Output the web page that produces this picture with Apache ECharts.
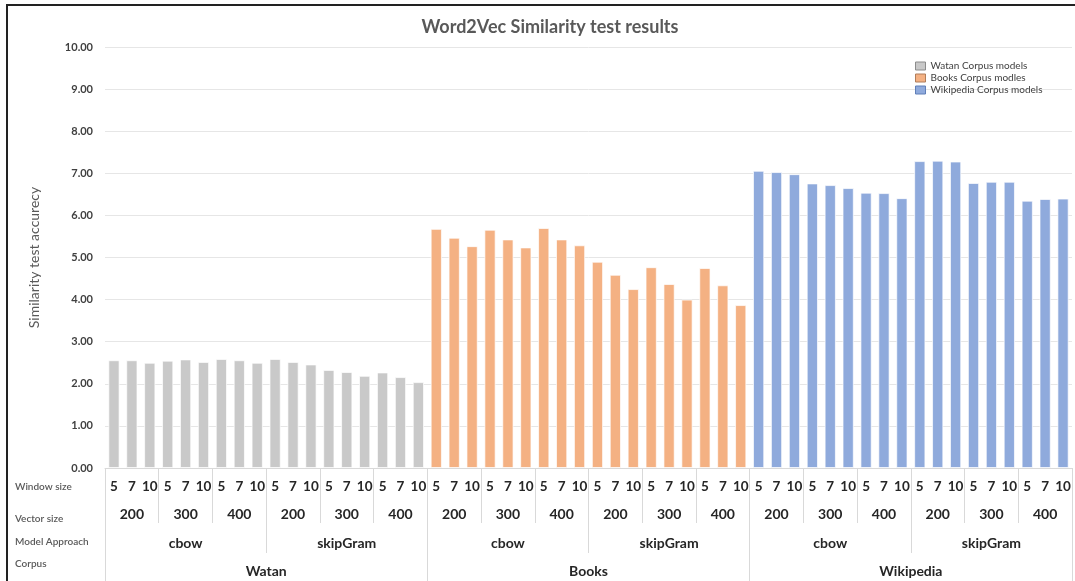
<!DOCTYPE html>
<html>
<head>
<meta charset="utf-8">
<title>Word2Vec Similarity test results</title>
<script src="https://cdn.jsdelivr.net/npm/echarts@6/dist/echarts.min.js"></script>
<style>
  html, body { margin: 0; padding: 0; background: #fff; }
  #wrap { position: relative; width: 1075px; height: 581px; }
  #wrap::before {
    content: ""; position: absolute; left: 6px; top: 4px; right: 0; bottom: 0;
    border-left: 2px solid #222; border-top: 2px solid #222; pointer-events: none; z-index: 2;
  }
  #chart { width: 1075px; height: 581px; }
</style>
</head>
<body>
<div id="wrap"><div id="chart"></div></div>
<script>
// Hierarchical category labels (innermost first)
const windowSizes = ['5', '7', '10'];
const vectorSizes = ['200', '300', '400'];
const approaches = ['cbow', 'skipGram'];
const corpora = ['Watan', 'Books', 'Wikipedia'];
const seriesNames = ['Watan Corpus models', 'Books Corpus modles', 'Wikipedia Corpus models'];

// Similarity test accuracy, ordered approach > vector size > window size
const watanScores = [2.56, 2.56, 2.50, 2.55, 2.58, 2.52, 2.59, 2.56, 2.50,
                     2.59, 2.52, 2.46, 2.33, 2.28, 2.19, 2.27, 2.16, 2.04];
const booksScores = [5.68, 5.47, 5.27, 5.66, 5.43, 5.24, 5.70, 5.43, 5.29,
                     4.90, 4.59, 4.25, 4.77, 4.37, 4.00, 4.75, 4.34, 3.87];
const wikiScores  = [7.06, 7.03, 6.98, 6.76, 6.72, 6.65, 6.54, 6.53, 6.41,
                     7.29, 7.30, 7.28, 6.77, 6.80, 6.80, 6.35, 6.39, 6.40];

const yTicks = { min: 0, max: 10, interval: 1 };
const colors = ['#c9c9c9', '#f4b183', '#8faadc'];
const legendBorders = ['#8c8c8c', '#b07d5a', '#5f7fb8'];

// Build the label rows for each level of the axis
const windowRow = [], vectorRow = [], approachRow = [], corpusRow = [];
corpora.forEach(c => {
  corpusRow.push(c);
  approaches.forEach(a => {
    approachRow.push(a);
    vectorSizes.forEach(v => {
      vectorRow.push(v);
      windowSizes.forEach(w => windowRow.push(w));
    });
  });
});

// Each corpus occupies its own block of the shared category axis
const allScores = [watanScores, booksScores, wikiScores];
const seriesData = allScores.map((scores, ci) => {
  const out = [];
  allScores.forEach((s, cj) => s.forEach((v) => out.push(ci === cj ? v : '-')));
  return out;
});

const FONT = 'Lato, "Open Sans", sans-serif';
const sepColor = '#d9d9d9';

function levelAxis(data, margin, tickLen, size) {
  return {
    type: 'category', data: data, gridIndex: 0, position: 'bottom',
    axisLine: { show: false },
    axisTick: { show: tickLen > 0, interval: 0, length: tickLen, lineStyle: { color: sepColor } },
    axisLabel: { interval: 0, margin: margin, fontFamily: FONT, fontSize: size, fontWeight: 'bold', color: '#262626' },
    splitLine: { show: false }
  };
}

const rowTitles = ['Window size', 'Vector size', 'Model Approach', 'Corpus'];
const rowY = [487, 519, 542, 564];

const chart = echarts.init(document.getElementById('chart'), null, { renderer: 'canvas' });
chart.setOption({
  animation: false,
  backgroundColor: '#fff',
  title: {
    text: 'Word2Vec Similarity test results',
    left: 545, textAlign: 'center', top: 13,
    textStyle: { fontFamily: FONT, fontSize: 18, fontWeight: 'bold', color: '#595959' }
  },
  legend: {
    orient: 'vertical', left: 915, top: 61, padding: 0,
    itemWidth: 10, itemHeight: 8, itemGap: 2,
    icon: 'rect',
    textStyle: { fontFamily: FONT, fontSize: 10, lineHeight: 10, color: '#404040' },
    data: seriesNames.map((n, i) => ({ name: n, itemStyle: { borderColor: legendBorders[i], borderWidth: 1 } }))
  },
  grid: { left: 105, right: 3, top: 47, bottom: 113, containLabel: false, outerBoundsMode: 'none' },
  graphic: rowTitles.map((t, i) => ({
    type: 'text', left: 15, top: rowY[i] - 5,
    style: { text: t, font: '600 10px ' + FONT, fill: '#595959' }
  })),
  xAxis: [
    Object.assign(levelAxis(windowRow, 12, 0, 13.5), {
      axisLine: { show: true, lineStyle: { color: sepColor } }
    }),
    levelAxis(vectorRow, 39, 55, 14),
    levelAxis(approachRow, 68, 85, 14),
    levelAxis(corpusRow, 96, 113, 14)
  ],
  yAxis: {
    type: 'value', min: yTicks.min, max: yTicks.max, interval: yTicks.interval,
    name: 'Similarity test accurecy', nameLocation: 'middle', nameGap: 64, nameRotate: 90,
    nameMoveOverlap: false,
    nameTextStyle: { fontFamily: FONT, fontSize: 14, color: '#595959' },
    axisLine: { show: false }, axisTick: { show: false },
    axisLabel: { fontFamily: FONT, fontSize: 11, fontWeight: 'bold', color: '#404040', margin: 12,
                 formatter: v => v.toFixed(2) },
    splitLine: { lineStyle: { color: '#e6e6e6', width: 1 } }
  },
  series: seriesNames.map((n, i) => ({
    name: n, type: 'bar', xAxisIndex: 0, stack: 'corpus',
    barWidth: '63%',
    itemStyle: { color: colors[i], borderColor: 'rgba(255,255,255,0.7)', borderWidth: 1 },
    data: seriesData[i]
  }))
});
</script>
</body>
</html>
